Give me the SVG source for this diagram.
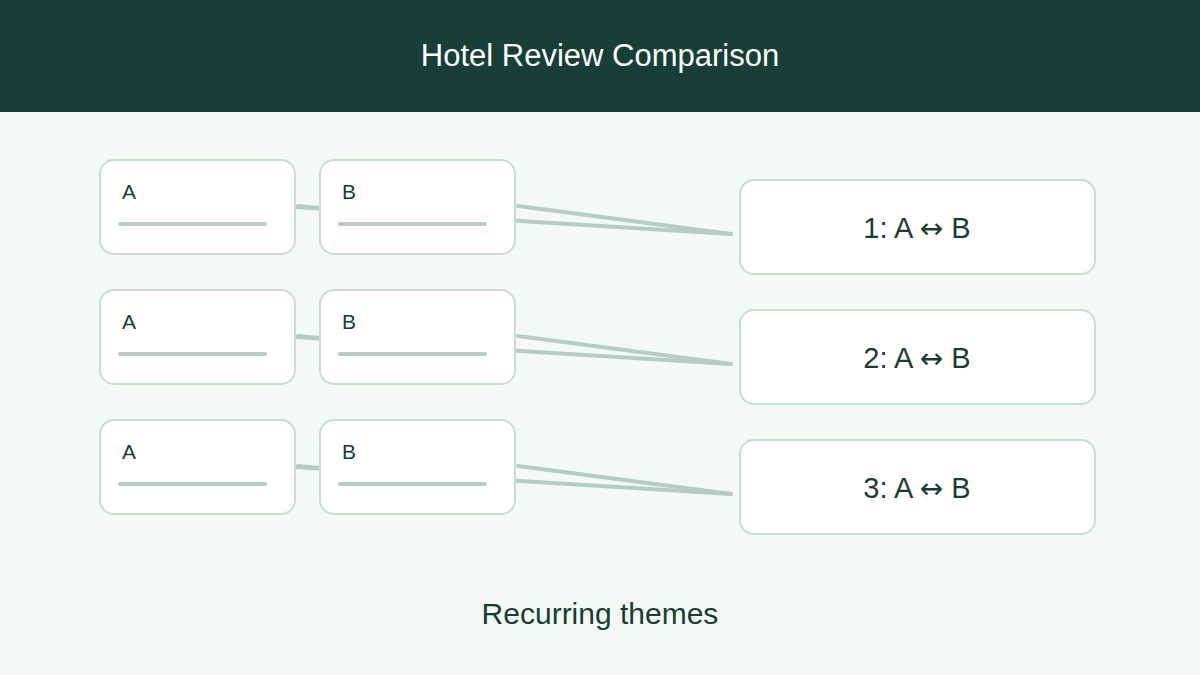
<svg xmlns="http://www.w3.org/2000/svg" width="1200" height="675" viewBox="0 0 1200 675">
<style>
.card{fill:#fff;stroke:#c9ddd3;stroke-width:2}
.bar{stroke:#b5cdc2;stroke-width:4;stroke-linecap:round}
.ln{stroke:#b5cdc2;stroke-width:4;fill:none;stroke-linecap:round}
.lbl{font-family:"Liberation Sans",Arial,sans-serif;font-size:21px;fill:#1a3d33}
.big{font-family:"Liberation Sans",Arial,sans-serif;font-size:29px;fill:#1a3d33;text-anchor:middle}
.arr{font-family:"DejaVu Sans",sans-serif;font-size:28px}
</style>
<rect width="1200" height="675" fill="#f3f9f5"/>
<rect width="1200" height="112" fill="#173f35"/>
<text x="600" y="66" font-family="'Liberation Sans',Arial,sans-serif" font-size="31" fill="#fff" text-anchor="middle">Hotel Review Comparison</text>
<g id="connectors">
<line class="ln" x1="298" y1="206" x2="320" y2="208"/>
<line class="ln" x1="295" y1="207" x2="731" y2="234"/>
<line class="ln" x1="518" y1="206" x2="731" y2="234"/>
<line class="ln" x1="298" y1="336" x2="320" y2="338"/>
<line class="ln" x1="295" y1="337" x2="731" y2="364"/>
<line class="ln" x1="518" y1="336" x2="731" y2="364"/>
<line class="ln" x1="298" y1="466" x2="320" y2="468"/>
<line class="ln" x1="295" y1="467" x2="731" y2="494"/>
<line class="ln" x1="518" y1="466" x2="731" y2="494"/>
</g>
<g id="a1"><rect class="card" x="100" y="160" width="195" height="94" rx="14"/><text class="lbl" x="122" y="199">A</text><line class="bar" x1="120" y1="224" x2="265" y2="224"/></g>
<g id="b1"><rect class="card" x="320" y="160" width="195" height="94" rx="14"/><text class="lbl" x="342" y="199">B</text><line class="bar" x1="340" y1="224" x2="485" y2="224"/></g>
<g id="a2"><rect class="card" x="100" y="290" width="195" height="94" rx="14"/><text class="lbl" x="122" y="329">A</text><line class="bar" x1="120" y1="354" x2="265" y2="354"/></g>
<g id="b2"><rect class="card" x="320" y="290" width="195" height="94" rx="14"/><text class="lbl" x="342" y="329">B</text><line class="bar" x1="340" y1="354" x2="485" y2="354"/></g>
<g id="a3"><rect class="card" x="100" y="420" width="195" height="94" rx="14"/><text class="lbl" x="122" y="459">A</text><line class="bar" x1="120" y1="484" x2="265" y2="484"/></g>
<g id="b3"><rect class="card" x="320" y="420" width="195" height="94" rx="14"/><text class="lbl" x="342" y="459">B</text><line class="bar" x1="340" y1="484" x2="485" y2="484"/></g>
<g id="r1"><rect class="card" x="740" y="180" width="355" height="94" rx="14"/><text class="big" x="917" y="238">1: A <tspan class="arr">↔</tspan> B</text></g>
<g id="r2"><rect class="card" x="740" y="310" width="355" height="94" rx="14"/><text class="big" x="917" y="368">2: A <tspan class="arr">↔</tspan> B</text></g>
<g id="r3"><rect class="card" x="740" y="440" width="355" height="94" rx="14"/><text class="big" x="917" y="498">3: A <tspan class="arr">↔</tspan> B</text></g>
<text x="600" y="624" font-family="'Liberation Sans',Arial,sans-serif" font-size="30" fill="#1a3d33" text-anchor="middle">Recurring themes</text>
</svg>
